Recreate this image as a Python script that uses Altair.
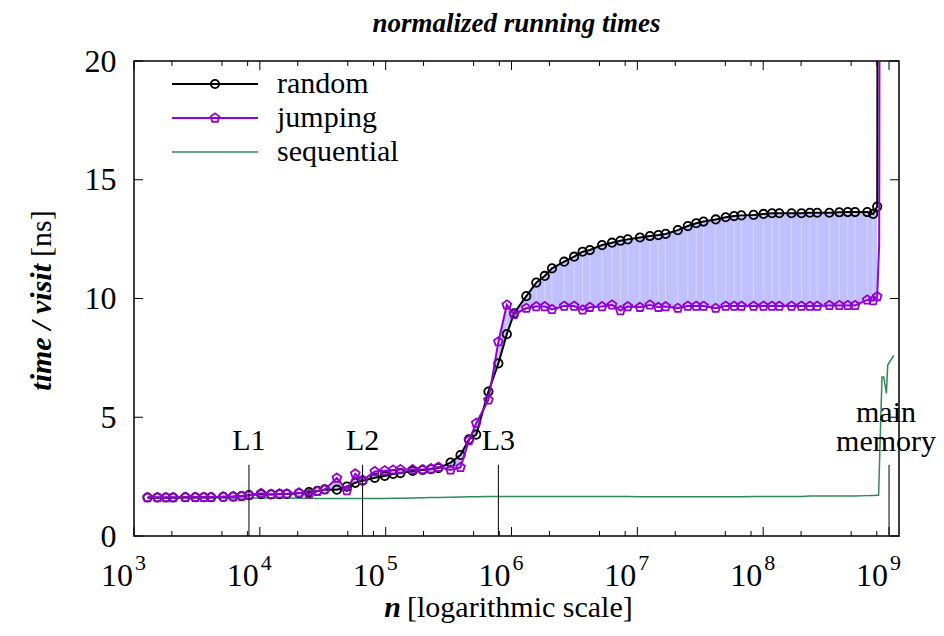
import altair as alt
import pandas as pd

FONT = "Liberation Serif"
W, H = 765, 475

# ---------------- data ----------------
n_grid = [1280, 1536, 1792, 2048, 2560, 3072, 3584, 4096, 5120, 6144, 7168, 8192,
          10240, 12288, 14336, 16384, 20480, 24576, 28672, 32768, 40960, 49152, 57344, 65536,
          81920, 98304, 114688, 131072, 163840, 196608, 229376, 262144, 327680, 393216, 458752, 524288,
          655360, 786432, 917504, 1048576, 1310720, 1572864, 1835008, 2097152, 2621440, 3145728, 3670016, 4194304,
          5242880, 6291456, 7340032, 8388608, 10485760, 12582912, 14680064, 16777216, 20971520, 25165824, 29360128, 33554432,
          41943040, 50331648, 58720256, 67108864, 83886080, 100663296, 117440512, 134217728, 167772160, 201326592, 234881024, 268435456,
          335544320, 402653184, 469762048, 536870912, 671088640, 748000000, 805306368]

random_t = [1.62, 1.62, 1.62, 1.62, 1.63, 1.63, 1.63, 1.63, 1.65, 1.66, 1.68, 1.72,
            1.76, 1.75, 1.76, 1.77, 1.80, 1.85, 1.90, 1.96, 1.95, 2.08, 2.24, 2.33,
            2.45, 2.53, 2.61, 2.65, 2.74, 2.78, 2.81, 2.86, 3.09, 3.41, 4.07, 4.27,
            6.08, 7.27, 8.50, 9.38, 10.10, 10.67, 10.95, 11.27, 11.55, 11.76, 11.97, 12.04,
            12.25, 12.35, 12.43, 12.49, 12.57, 12.63, 12.67, 12.72, 12.88, 13.05, 13.17, 13.24,
            13.33, 13.42, 13.47, 13.50, 13.52, 13.56, 13.59, 13.59, 13.59, 13.59, 13.61, 13.61,
            13.61, 13.63, 13.64, 13.64, 13.64, 13.56, 13.87]

jumping_t = [1.62, 1.62, 1.62, 1.62, 1.63, 1.63, 1.63, 1.63, 1.65, 1.66, 1.68, 1.72,
             1.80, 1.76, 1.78, 1.78, 1.82, 1.76, 1.88, 1.95, 2.44, 1.91, 2.62, 2.35,
             2.72, 2.75, 2.78, 2.80, 2.80, 2.80, 2.84, 2.90, 2.78, 2.89, 4.02, 4.75,
             5.73, 8.18, 9.73, 9.33, 9.59, 9.66, 9.66, 9.54, 9.68, 9.68, 9.52, 9.63,
             9.66, 9.73, 9.49, 9.66, 9.63, 9.73, 9.63, 9.66, 9.59, 9.68, 9.68, 9.68,
             9.59, 9.68, 9.68, 9.68, 9.68, 9.68, 9.68, 9.68, 9.68, 9.68, 9.68, 9.68,
             9.71, 9.71, 9.71, 9.71, 9.94, 9.91, 10.08]

sequential_t = [1.60, 1.60, 1.60, 1.60, 1.60, 1.60, 1.60, 1.60, 1.60, 1.60, 1.60, 1.60,
                1.60, 1.60, 1.60, 1.60, 1.59, 1.59, 1.58, 1.58, 1.58, 1.58, 1.58, 1.58,
                1.58, 1.58, 1.59, 1.59, 1.60, 1.61, 1.62, 1.62, 1.63, 1.64, 1.65, 1.65,
                1.66, 1.66, 1.66, 1.66, 1.66, 1.66, 1.66, 1.66, 1.66, 1.66, 1.66, 1.66,
                1.66, 1.66, 1.66, 1.66, 1.65, 1.65, 1.65, 1.65, 1.65, 1.65, 1.65, 1.65,
                1.65, 1.65, 1.65, 1.65, 1.66, 1.66, 1.66, 1.66, 1.66, 1.66, 1.68, 1.68,
                1.68, 1.68, 1.68, 1.68, 1.70, 1.71, 1.72]

# points after the last common size (off the top of the plot for random / jumping)
random_tail_n = [820000000]
random_tail_t = [40.0]
jumping_tail_n = [835000000, 850000000]
jumping_tail_t = [12.3, 40.0]
sequential_tail_n = [826000000, 879000000, 907000000, 953000000, 976000000, 1090000000]
sequential_tail_t = [1.72, 6.7, 6.7, 6.0, 7.2, 7.6]

cache_names = ["L1", "L2", "L3"]
cache_n = [8192, 65536, 786432]
main_memory_n = 1000000000

decades = [1e3, 1e4, 1e5, 1e6, 1e7, 1e8, 1e9]
decade_exp = ["3", "4", "5", "6", "7", "8", "9"]
minor_ticks = [m * d for d in [1e3, 1e4, 1e5, 1e6, 1e7, 1e8] for m in (2, 5, 8)]
y_ticks = [0, 5, 10, 15, 20]

# ---------------- tables ----------------
both = pd.DataFrame({"n": n_grid, "random": random_t, "jumping": jumping_t})
rand_df = pd.DataFrame({"n": n_grid + random_tail_n, "t": random_t + random_tail_t})
jump_df = pd.DataFrame({"n": n_grid + jumping_tail_n, "t": jumping_t + jumping_tail_t})
seq_df = pd.DataFrame({"n": n_grid + sequential_tail_n, "t": sequential_t + sequential_tail_t})
rand_pts = pd.DataFrame({"n": n_grid, "t": random_t})
jump_pts = pd.DataFrame({"n": n_grid, "t": jumping_t})
cache_df = pd.DataFrame({"n": cache_n + [main_memory_n], "name": cache_names + [""]})
cache_lbl = pd.DataFrame({"n": cache_n, "name": cache_names})
dec_df = pd.DataFrame({"n": decades, "base": ["10"] * len(decades), "exp": decade_exp})
minor_df = pd.DataFrame({"n": minor_ticks})
ytick_df = pd.DataFrame({"v": y_ticks})
one = pd.DataFrame({"k": [0]})

PURPLE = "#9400d3"
GREEN = "#2e8b57"
FILL = "#c0c0ff"
PENT = "M0,-1 L0.951,-0.309 L0.588,0.809 L-0.588,0.809 L-0.951,-0.309 Z"

xs = alt.Scale(type="log", domain=[1000, 1.2e9])
ys = alt.Scale(domain=[0, 20], nice=False, zero=False)
yaxis = alt.Axis(values=y_ticks, ticks=False, domain=False, grid=False, labelFont=FONT,
                 labelFontSize=32, labelPadding=18, labelColor="black", title=None)


def X(f):
    return alt.X(f, type="quantitative", scale=xs, axis=None)


def Y(f):
    return alt.Y(f, type="quantitative", scale=ys, axis=yaxis)


layers = []

# fill between random and jumping, with the faint seams of the original rendering
layers.append(alt.Chart(both).mark_area(color=FILL, opacity=1, clip=True)
              .encode(x=X("n"), y=Y("random"), y2="jumping:Q"))
layers.append(alt.Chart(both).mark_rule(color="white", strokeWidth=0.8, opacity=0.45, clip=True)
              .encode(x=X("n"), y=Y("random"), y2="jumping:Q"))

# sequential
layers.append(alt.Chart(seq_df).mark_line(color=GREEN, strokeWidth=1.5, clip=True)
              .encode(x=X("n"), y=Y("t")))

# random
layers.append(alt.Chart(rand_df).mark_line(color="black", strokeWidth=2, clip=True)
              .encode(x=X("n"), y=Y("t")))
layers.append(alt.Chart(rand_pts).mark_point(shape="circle", filled=False, size=70,
                                             strokeWidth=1.8, color="black", opacity=1, clip=True)
              .encode(x=X("n"), y=Y("t")))

# jumping
layers.append(alt.Chart(jump_df).mark_line(color=PURPLE, strokeWidth=2, clip=True)
              .encode(x=X("n"), y=Y("t")))
layers.append(alt.Chart(jump_pts).mark_point(shape=PENT, filled=False, size=85,
                                             strokeWidth=1.8, color=PURPLE, opacity=1, clip=True)
              .encode(x=X("n"), y=Y("t")))

# cache boundary markers
layers.append(alt.Chart(cache_df).mark_rule(color="black", strokeWidth=1)
              .encode(x=X("n"), y=alt.datum(0), y2=alt.datum(3)))
layers.append(alt.Chart(cache_lbl).mark_text(font=FONT, fontSize=30, baseline="middle", align="center")
              .encode(x=X("n"), y=alt.datum(4.0), text="name:N"))
layers.append(alt.Chart(one).mark_text(font=FONT, fontSize=30, baseline="middle", align="center", text="main", dx=-3)
              .encode(x=alt.X(datum=main_memory_n, type="quantitative", scale=xs, axis=None), y=alt.datum(5.2)))
layers.append(alt.Chart(one).mark_text(font=FONT, fontSize=30, baseline="middle", align="center", text="memory", dx=-3)
              .encode(x=alt.X(datum=main_memory_n, type="quantitative", scale=xs, axis=None), y=alt.datum(3.95)))

# inward ticks
layers.append(alt.Chart(dec_df).mark_rule(color="black", strokeWidth=1)
              .encode(x=X("n"), y=alt.value(H), y2=alt.value(H - 9)))
layers.append(alt.Chart(dec_df).mark_rule(color="black", strokeWidth=1)
              .encode(x=X("n"), y=alt.value(0), y2=alt.value(9)))
layers.append(alt.Chart(minor_df).mark_rule(color="black", strokeWidth=1)
              .encode(x=X("n"), y=alt.value(H), y2=alt.value(H - 5)))
layers.append(alt.Chart(minor_df).mark_rule(color="black", strokeWidth=1)
              .encode(x=X("n"), y=alt.value(0), y2=alt.value(5)))
layers.append(alt.Chart(ytick_df).mark_rule(color="black", strokeWidth=1)
              .encode(y=Y("v"), x=alt.value(0), x2=alt.value(9)))
layers.append(alt.Chart(ytick_df).mark_rule(color="black", strokeWidth=1)
              .encode(y=Y("v"), x=alt.value(W), x2=alt.value(W - 9)))

# x tick labels 10^k
layers.append(alt.Chart(dec_df).mark_text(font=FONT, fontSize=32, align="right", baseline="alphabetic", dx=-1)
              .encode(x=X("n"), y=alt.value(525), text="base:N"))
layers.append(alt.Chart(dec_df).mark_text(font=FONT, fontSize=22, align="left", baseline="alphabetic", dx=1)
              .encode(x=X("n"), y=alt.value(509), text="exp:N"))

# legend (drawn by hand, top-left inside the plot)
legend_rows = [("random", "black", "circle"), ("jumping", PURPLE, PENT), ("sequential", GREEN, None)]
for i, (name, col, shp) in enumerate(legend_rows):
    yy = 23 + 34 * i
    layers.append(alt.Chart(one).mark_rule(color=col, strokeWidth=2 if shp else 1.5)
                  .encode(x=alt.value(38), x2=alt.value(124), y=alt.value(yy)))
    if shp:
        layers.append(alt.Chart(one).mark_point(shape=shp, filled=False, size=70 if shp == "circle" else 85,
                                                strokeWidth=1.8, color=col, opacity=1)
                      .encode(x=alt.value(81), y=alt.value(yy)))
    layers.append(alt.Chart(one).mark_text(font=FONT, fontSize=30, align="left", baseline="middle", text=name)
                  .encode(x=alt.value(143), y=alt.value(yy)))

# titles
layers.append(alt.Chart(one).mark_text(font=FONT, fontSize=27, fontStyle="italic", fontWeight="bold",
                                       align="center", baseline="alphabetic", text="normalized running times")
              .encode(x=alt.value(W / 2), y=alt.value(-29)))
layers.append(alt.Chart(one).mark_text(font=FONT, fontSize=30, fontStyle="italic", fontWeight="bold",
                                       align="right", baseline="alphabetic", text="n")
              .encode(x=alt.value(267), y=alt.value(556)))
layers.append(alt.Chart(one).mark_text(font=FONT, fontSize=30, align="left", baseline="alphabetic",
                                       text="[logarithmic scale]")
              .encode(x=alt.value(273), y=alt.value(556)))
layers.append(alt.Chart(one).mark_text(font=FONT, fontSize=30, fontStyle="italic", fontWeight="bold",
                                       align="right", baseline="middle", angle=270, text="time / visit")
              .encode(x=alt.value(-92), y=alt.value(203)))
layers.append(alt.Chart(one).mark_text(font=FONT, fontSize=30, align="left", baseline="middle", angle=270,
                                       text="[ns]")
              .encode(x=alt.value(-92), y=alt.value(196)))

chart = alt.layer(*layers).properties(
    width=W, height=H,
    autosize=alt.AutoSizeParams(type="none"),
    padding={"left": 126, "top": 53, "right": 37, "bottom": 90},
).configure_view(stroke="black", strokeWidth=1.5)

chart.save("out.html", embed_options={"renderer": "svg", "actions": False})
